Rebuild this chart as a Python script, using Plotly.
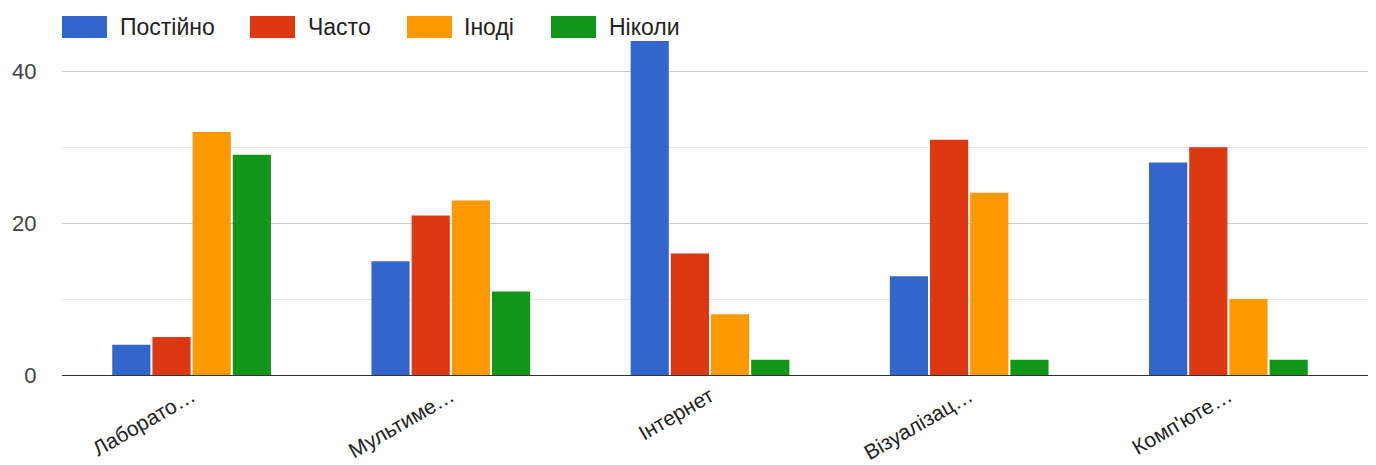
import plotly.graph_objects as go

categories = ["Лаборато…", "Мультиме…", "Інтернет", "Візуалізац…", "Комп'юте…"]
series_names = ["Постійно", "Часто", "Іноді", "Ніколи"]
postiyno = [4, 15, 44, 13, 28]
chasto = [5, 21, 16, 31, 30]
inodi = [32, 23, 8, 24, 10]
nikoly = [29, 11, 2, 2, 2]
colors = ["#3366cc", "#dc3912", "#ff9900", "#109618"]

# page body adds an 8px offset; figure sized to fill the rest of the window
OFF = 8
W, H = 1376 - OFF, 465 - OFF
ML, MR, MT, MB = 62 - OFF, 0, 41 - OFF, 90
PW, PH = W - ML - MR, H - MT - MB


def px_x(px):
    return (px - OFF - ML) / PW


def px_y(py):
    return (H - MB - (py - OFF)) / PH


fig = go.Figure()
for name, vals, c in zip(series_names, [postiyno, chasto, inodi, nikoly], colors):
    fig.add_trace(go.Bar(x=categories, y=vals, name=name,
                         marker=dict(color=c, line=dict(width=0)), showlegend=False))

# custom legend (large rectangular swatches like the original)
legend_rect_x = [62, 250, 407, 551]
legend_text_x = [118, 306, 462, 607]
shapes = []
annotations = []
for name, c, rx, tx in zip(series_names, colors, legend_rect_x, legend_text_x):
    shapes.append(dict(type="rect", xref="paper", yref="paper",
                       x0=px_x(rx), x1=px_x(rx + 45), y0=px_y(38), y1=px_y(16),
                       fillcolor=c, line=dict(width=0), layer="above"))
    annotations.append(dict(text=name, xref="paper", yref="paper",
                            x=px_x(tx), y=px_y(27), xanchor="left", yanchor="middle",
                            showarrow=False,
                            font=dict(size=23, color="#222",
                                      family="Liberation Sans, Arial, sans-serif")))

cat_px = 259.2
x_hi = -0.5 + PW / cat_px

fig.update_layout(
    width=W, height=H,
    margin=dict(l=ML, r=MR, t=MT, b=MB, autoexpand=False),
    paper_bgcolor="white", plot_bgcolor="white",
    barmode="group", bargap=0.38, bargroupgap=0.05,
    font=dict(family="Liberation Sans, Arial, sans-serif", size=21, color="#444"),
    showlegend=False,
    shapes=shapes, annotations=annotations,
)
fig.update_xaxes(tickangle=-30, showgrid=False, showline=True, linecolor="#333", linewidth=1,
                 range=[-0.5, x_hi],
                 ticks="", automargin=False, tickfont=dict(size=21, color="#222"))
fig.update_yaxes(range=[0, 44], dtick=20, tick0=0, showgrid=True, gridcolor="#cccccc",
                 minor=dict(dtick=10, showgrid=True, gridcolor="#e8e8e8"),
                 zeroline=False, ticks="outside", ticklen=20, tickcolor="white",
                 automargin=False, tickfont=dict(size=22, color="#444"))

fig.write_html("out.html")
